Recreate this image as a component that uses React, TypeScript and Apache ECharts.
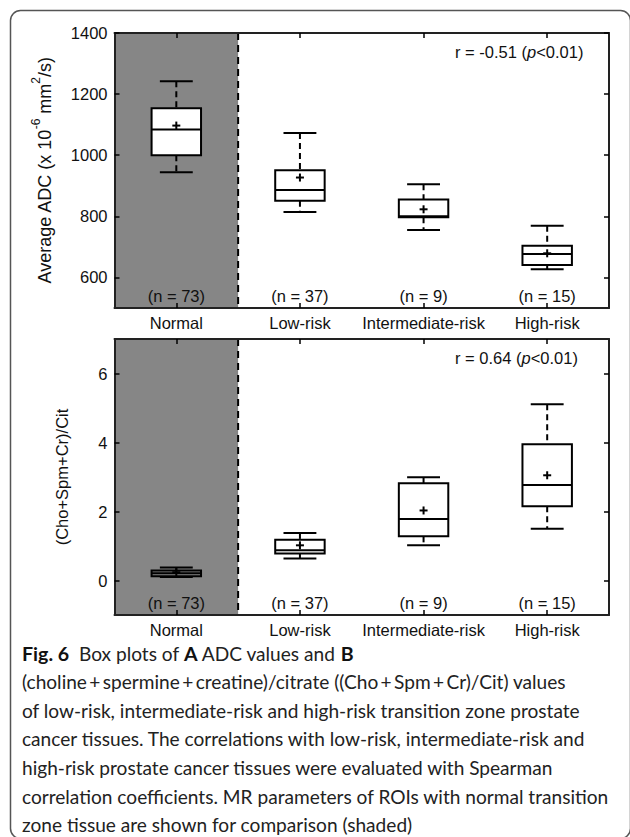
import React, { useEffect, useRef } from "react";
import * as echarts from "echarts";

// ---------- data ----------
const categories = ["Normal", "Low-risk", "Intermediate-risk", "High-risk"];
const sampleSizes = ["(n = 73)", "(n = 37)", "(n = 9)", "(n = 15)"];
const shadedCategory = 0; // "Normal" shown for comparison (shaded)

// Panel A: Average ADC (x 10^-6 mm^2/s)
const adcWhiskerLow = [944, 814, 755, 627];
const adcQ1 = [1000, 851, 797, 641];
const adcMedian = [1084, 886, 800, 677];
const adcQ3 = [1154, 951, 855, 704];
const adcWhiskerHigh = [1242, 1073, 905, 769];
const adcMean = [1097, 927, 823, 679];
const adcTicks = [600, 800, 1000, 1200, 1400];
const adcMin = 500;
const adcMax = 1400;

// Panel B: (Cho+Spm+Cr)/Cit
const ratioWhiskerLow = [0.1, 0.64, 1.02, 1.5];
const ratioQ1 = [0.12, 0.78, 1.28, 2.15];
const ratioMedian = [0.21, 0.88, 1.78, 2.77];
const ratioQ3 = [0.29, 1.18, 2.82, 3.95];
const ratioWhiskerHigh = [0.38, 1.38, 2.99, 5.11];
const ratioMean = [0.24, 1.02, 2.03, 3.05];
const ratioTicks = [0, 2, 4, 6];
const ratioMin = -1;
const ratioMax = 7;

const corrA = "r = -0.51 ({i|p}<0.01)";
const corrB = "r = 0.64 ({i|p}<0.01)";

const captionLines = [
  "{b|Fig. 6}  Box plots of {b|A} ADC values and {b|B}",
  "(choline\u2009+\u2009spermine\u2009+\u2009creatine)/citrate ((Cho\u2009+\u2009Spm\u2009+\u2009Cr)/Cit) values",
  "of low-risk, intermediate-risk and high-risk transition zone prostate",
  "cancer tissues. The correlations with low-risk, intermediate-risk and",
  "high-risk prostate cancer tissues were evaluated with Spearman",
  "correlation coefficients. MR parameters of ROIs with normal transition",
  "zone tissue are shown for comparison (shaded)",
];

// ---------- helpers ----------
const FONT = "'Liberation Sans', Arial, sans-serif";
const CAPTION_FONT = "Lato, 'Noto Sans', sans-serif";
const CAPTION_SIZE = 19.1;
const INK = "#000";

function rows(lo: number[], q1: number[], med: number[], q3: number[], hi: number[], mean: number[]) {
  return categories.map((_, i) => [i, lo[i], q1[i], med[i], q3[i], hi[i], mean[i]]);
}

function makeBoxRender(shadedFill: string) {
  return (params: any, api: any) => {
    const i = api.value(0);
    const lo = api.value(1), q1 = api.value(2), med = api.value(3), q3 = api.value(4), hi = api.value(5), mean = api.value(6);
    const band = api.size([1, 0])[0];
    const half = band * 0.2;
    const cap = band * 0.133;
    const c = (v: number) => api.coord([i, v]);
    const pLo = c(lo), pQ1 = c(q1), pMed = c(med), pQ3 = c(q3), pHi = c(hi), pMean = c(mean);
    const x = pLo[0];
    const solid = { stroke: INK, lineWidth: 2, fill: null };
    const dashed = { stroke: INK, lineWidth: 2, lineDash: [6, 4], fill: null };
    const ps = 4;
    return {
      type: "group",
      children: [
        { type: "line", shape: { x1: x, y1: pHi[1], x2: x, y2: pQ3[1] }, style: dashed },
        { type: "line", shape: { x1: x, y1: pQ1[1], x2: x, y2: pLo[1] }, style: dashed },
        { type: "line", shape: { x1: x - cap, y1: pHi[1], x2: x + cap, y2: pHi[1] }, style: solid },
        { type: "line", shape: { x1: x - cap, y1: pLo[1], x2: x + cap, y2: pLo[1] }, style: solid },
        {
          type: "rect",
          shape: { x: x - half, y: pQ3[1], width: 2 * half, height: pQ1[1] - pQ3[1] },
          style: { stroke: INK, lineWidth: 2, fill: i === shadedCategory ? shadedFill : "#fff" },
        },
        { type: "line", shape: { x1: x - half, y1: pMed[1], x2: x + half, y2: pMed[1] }, style: solid },
        { type: "line", shape: { x1: pMean[0] - ps, y1: pMean[1], x2: pMean[0] + ps, y2: pMean[1] }, style: solid },
        { type: "line", shape: { x1: pMean[0], y1: pMean[1] - ps, x2: pMean[0], y2: pMean[1] + ps }, style: solid },
      ],
    };
  };
}

const renderShade = (params: any, api: any) => {
  const cs = params.coordSys;
  const band = api.size([1, 0])[0];
  const xr = api.coord([api.value(0), api.value(1)])[0] + band / 2;
  return {
    type: "group",
    children: [
      { type: "rect", shape: { x: cs.x, y: cs.y, width: xr - cs.x, height: cs.height }, style: { fill: "#868686" } },
      {
        type: "line",
        shape: { x1: xr, y1: cs.y, x2: xr, y2: cs.y + cs.height },
        style: { stroke: INK, lineWidth: 2, lineDash: [7, 5] },
      },
    ],
  };
};

const renderN = (params: any, api: any) => {
  const cs = params.coordSys;
  const i = api.value(0);
  const p = api.coord([i, api.value(1)]);
  return {
    type: "text",
    x: p[0],
    y: cs.y + cs.height - 12,
    style: {
      text: sampleSizes[i],
      fontSize: 16.5,
      fontFamily: FONT,
      fill: "#111",
      align: "center",
      verticalAlign: "middle",
    },
  };
};

function catAxis(gridIndex: number, position: "top" | "bottom", showLabels: boolean) {
  return {
    type: "category",
    gridIndex,
    position,
    data: categories,
    boundaryGap: true,
    z: 10,
    axisLine: { show: true, onZero: false, lineStyle: { color: "#222", width: 2 } },
    axisTick: { show: true, inside: true, alignWithLabel: true, interval: 0, length: 5, lineStyle: { color: INK, width: 1.5 } },
    axisLabel: { show: showLabels, interval: 0, fontSize: 16.5, fontFamily: FONT, color: "#111", margin: 6 },
    splitLine: { show: false },
  };
}

function valAxis(
  gridIndex: number,
  position: "left" | "right",
  min: number,
  max: number,
  ticks: number[],
  showLabels: boolean,
  name?: string,
  nameGap?: number,
  nameStyle?: any
) {
  return {
    type: "value",
    gridIndex,
    position,
    min,
    max,
    z: 10,
    name: name || "",
    nameLocation: "middle",
    nameGap: nameGap || 45,
    nameRotate: 90,
    nameTextStyle: nameStyle,
    axisLine: { show: true, onZero: false, lineStyle: { color: "#222", width: 2 } },
    axisTick: { show: true, inside: true, length: 5, customValues: ticks, lineStyle: { color: INK, width: 1.5 } },
    axisLabel: {
      show: showLabels,
      customValues: ticks,
      fontSize: 16.5,
      fontFamily: FONT,
      color: "#111",
      margin: 7,
      formatter: (v: number) => String(v),
    },
    splitLine: { show: false },
  };
}

export default function App() {
  const ref = useRef<HTMLDivElement>(null);

  useEffect(() => {
    document.body.style.margin = "0";
    if (!ref.current) return;
    const chart = echarts.init(ref.current, null, { renderer: "svg" });

    const gridLeft = 114.5;
    const gridWidth = 494.5;

    const option: any = {
      animation: false,
      backgroundColor: "#fff",
      grid: [
        { left: gridLeft, top: 33, width: gridWidth, height: 275, containLabel: false },
        { left: gridLeft, top: 339, width: gridWidth, height: 276, containLabel: false },
      ],
      xAxis: [
        catAxis(0, "bottom", true),
        catAxis(0, "top", false),
        catAxis(1, "bottom", true),
        catAxis(1, "top", false),
      ],
      yAxis: [
        valAxis(0, "left", adcMin, adcMax, adcTicks, true, "Average ADC (x 10{sup|-6} mm{sup|2}/s)", 38, {
          fontSize: 18,
          fontFamily: FONT,
          color: "#111",
          lineHeight: 30,
          rich: { sup: { fontSize: 12, fontFamily: FONT, color: "#111", lineHeight: 13, verticalAlign: "top" } },
        }),
        valAxis(0, "right", adcMin, adcMax, adcTicks, false),
        valAxis(1, "left", ratioMin, ratioMax, ratioTicks, true, "(Cho+Spm+Cr)/Cit", 44, {
          fontSize: 16.5,
          fontFamily: FONT,
          color: "#111",
        }),
        valAxis(1, "right", ratioMin, ratioMax, ratioTicks, false),
      ],
      series: [
        {
          type: "custom",
          xAxisIndex: 0,
          yAxisIndex: 0,
          z: 1,
          silent: true,
          renderItem: renderShade,
          encode: { x: 0, y: 1 },
          data: [[shadedCategory, adcMin]],
        },
        {
          type: "custom",
          xAxisIndex: 0,
          yAxisIndex: 0,
          z: 3,
          silent: true,
          renderItem: makeBoxRender("#fff"),
          encode: { x: 0, y: [1, 2, 3, 4, 5, 6] },
          data: rows(adcWhiskerLow, adcQ1, adcMedian, adcQ3, adcWhiskerHigh, adcMean),
        },
        {
          type: "custom",
          xAxisIndex: 0,
          yAxisIndex: 0,
          z: 4,
          silent: true,
          renderItem: renderN,
          encode: { x: 0, y: 1 },
          data: categories.map((_, i) => [i, adcMin]),
        },
        {
          type: "custom",
          xAxisIndex: 2,
          yAxisIndex: 2,
          z: 1,
          silent: true,
          renderItem: renderShade,
          encode: { x: 0, y: 1 },
          data: [[shadedCategory, ratioMin]],
        },
        {
          type: "custom",
          xAxisIndex: 2,
          yAxisIndex: 2,
          z: 3,
          silent: true,
          renderItem: makeBoxRender("none"),
          encode: { x: 0, y: [1, 2, 3, 4, 5, 6] },
          data: rows(ratioWhiskerLow, ratioQ1, ratioMedian, ratioQ3, ratioWhiskerHigh, ratioMean),
        },
        {
          type: "custom",
          xAxisIndex: 2,
          yAxisIndex: 2,
          z: 4,
          silent: true,
          renderItem: renderN,
          encode: { x: 0, y: 1 },
          data: categories.map((_, i) => [i, ratioMin]),
        },
      ],
      graphic: [
        {
          type: "rect",
          silent: true,
          z: 0,
          shape: { x: 10.5, y: 10.5, width: 620, height: 828, r: 10 },
          style: { fill: "none", stroke: "#555", lineWidth: 1.5 },
        },
        {
          type: "text",
          x: 125,
          y: 50,
          style: { text: "A", fontSize: 17, fontWeight: "bold", fontFamily: FONT, fill: INK, align: "left", verticalAlign: "middle" },
        },
        {
          type: "text",
          x: 125,
          y: 357,
          style: { text: "B", fontSize: 17, fontWeight: "bold", fontFamily: FONT, fill: INK, align: "left", verticalAlign: "middle" },
        },
        {
          type: "text",
          x: 455,
          y: 52,
          style: {
            text: corrA,
            fontSize: 16.5,
            fontFamily: FONT,
            fill: "#111",
            align: "left",
            verticalAlign: "middle",
            rich: { i: { fontSize: 16.5, fontFamily: FONT, fontStyle: "italic", fill: "#111" } },
          },
        },
        {
          type: "text",
          x: 455,
          y: 358,
          style: {
            text: corrB,
            fontSize: 16.5,
            fontFamily: FONT,
            fill: "#111",
            align: "left",
            verticalAlign: "middle",
            rich: { i: { fontSize: 16.5, fontFamily: FONT, fontStyle: "italic", fill: "#111" } },
          },
        },
        ...captionLines.map((t, k) => ({
          type: "text",
          x: 22,
          y: 653 + k * 28.6,
          style: {
            text: t,
            fontSize: CAPTION_SIZE,
            fontFamily: CAPTION_FONT,
            fill: "#222",
            align: "left",
            verticalAlign: "middle",
            rich: { b: { fontSize: CAPTION_SIZE + 0.5, fontFamily: CAPTION_FONT, fontWeight: "bold", fill: "#111" } },
          },
        })),
      ],
    };

    chart.setOption(option);
    return () => chart.dispose();
  }, []);

  return <div ref={ref} style={{ width: 630, height: 837 }} />;
}
